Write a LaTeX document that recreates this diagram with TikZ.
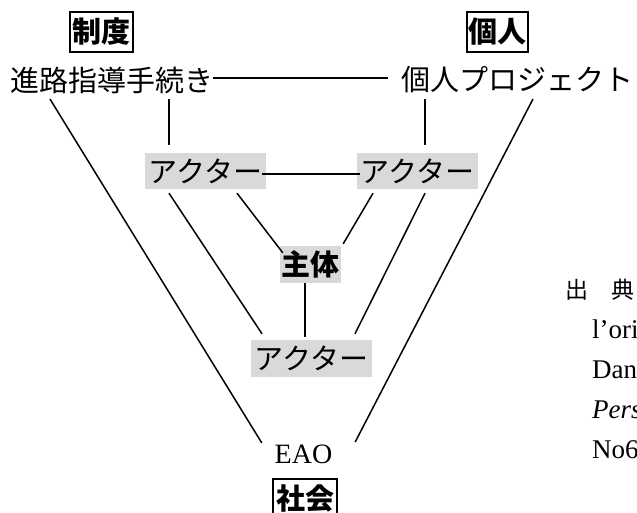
\documentclass[tikz,border=0pt]{standalone}
\usepackage{fontspec}
\setmainfont{Liberation Serif}
\newfontfamily\cjk{Noto Sans CJK JP}
\usetikzlibrary{calc}
\definecolor{actorgray}{RGB}{217,217,217}
\begin{document}
\begin{tikzpicture}[x=1pt,y=-1pt,
  conn/.style={line width=1.5pt},
  lbl/.style={font=\cjk\fontsize{29}{29}\selectfont, inner sep=0pt},
  actorbox/.style={lbl, fill=actorgray, minimum width=121pt, minimum height=36pt},
  corebox/.style={actorbox, font=\cjk\bfseries\fontsize{29}{29}\selectfont, minimum width=61pt, minimum height=37pt},
  tagbox/.style={draw, line width=1.7pt, inner sep=0pt, font=\cjk\bfseries\fontsize{29}{29}\selectfont, minimum width=63pt, minimum height=40pt},
  srctext/.style={inner sep=0pt, anchor=base west, font=\fontsize{27}{27}\selectfont}
]
\useasboundingbox (0,0) rectangle (637,513);
\clip (0,0) rectangle (637,513);
\fill[white] (0,0) rectangle (637,513);

% category tags
\node[tagbox] (seido) at (101.5,32) {制度};
\node[tagbox, minimum width=61pt] (kojintag) at (497.5,32) {個人};
\node[tagbox, minimum width=64pt] (shakai) at (305,499) {社会};

% top labels
\node[lbl, anchor=west] (shinro) at (10,80) {進路指導手続き};
\node[lbl, anchor=west] (proj) at (401,80) {個人プロジェクト};

% actors and subject
\node[actorbox] (actorL) at (205.5,171) {アクター};
\node[actorbox] (actorR) at (417.5,171) {アクター};
\node[corebox] (core) at (310.5,264.5) {主体};
\node[actorbox, minimum height=37pt] (actorB) at (311.5,358.5) {アクター};

% bottom label
\node[inner sep=0pt, font=\fontsize{28}{28}\selectfont] (eao) at (303.5,454.5) {EAO};

% source text (cut off at the picture's edge, as in the reference)
\node[lbl, anchor=west, font=\cjk\fontsize{23}{23}\selectfont] (src0) at (565,290) {出\hspace{23pt}典};
\node[srctext] (src1) at (592,338) {l’ori};
\node[srctext] (src2) at (592,378) {Dan};
\node[srctext, font=\itshape\fontsize{27}{27}\selectfont] (src3) at (592,418) {Pers};
\node[srctext] (src4) at (592,458) {No6};

% connectors
\draw[conn] ($(shinro.east)+(0,-2)$) -- ($(proj.west)+(-13,-2)$);
\draw[conn] ($(shinro.south west)+(159,5.5)$) -- ($(actorL.north)+(-36.5,-8)$);
\draw[conn] ($(proj.south west)+(24,5.5)$) -- ($(actorR.north)+(7.5,-8)$);
\draw[conn] ($(shinro.south west)+(40,5.5)$) -- ($(eao.west)+(-12.7,-11.5)$);
\draw[conn] ($(proj.south west)+(132,5.5)$) -- ($(eao.east)+(22.7,-12.5)$);
\draw[conn] ($(actorL.east)+(-4,3)$) -- ($(actorR.west)+(3,3)$);
\draw[conn] ($(actorL.south)+(-36.5,4)$) -- ($(actorB.north)+(-49.5,-6)$);
\draw[conn] ($(actorL.south)+(31.5,4)$) -- ($(core.north west)+(3,7)$);
\draw[conn] ($(actorR.south)+(-44.5,4)$) -- ($(core.north east)+(2,-2)$);
\draw[conn] ($(actorR.south)+(7.5,4)$) -- ($(actorB.north)+(43.5,-6)$);
\draw[conn] ($(core.south)+(-5.5,0)$) -- ($(actorB.north)+(-6.5,-3)$);
\end{tikzpicture}
\end{document}
